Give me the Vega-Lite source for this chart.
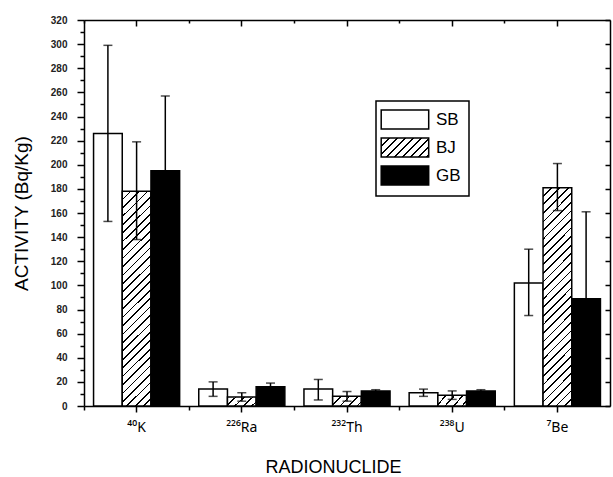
{
  "$schema": "https://vega.github.io/schema/vega-lite/v6.json",
  "width": 526,
  "height": 386,
  "autosize": {"type": "none"},
  "padding": {"left": 84, "top": 20, "right": 3, "bottom": 71},
  "background": "white",
  "config": {
    "view": {"stroke": null},
    "font": "Liberation Sans",
    "axis": {"grid": false, "domainColor": "black", "tickColor": "black", "domainWidth": 1.5, "tickWidth": 1.5, "labelColor": "black", "titleColor": "black", "labelFont": "Liberation Sans", "titleFont": "Liberation Sans"}
  },
  "data": {
    "values": [
      {"nuclide": "⁴⁰K", "group": "SB", "value": 226, "lo": 153, "hi": 299},
      {"nuclide": "⁴⁰K", "group": "BJ", "value": 178, "lo": 138, "hi": 219},
      {"nuclide": "⁴⁰K", "group": "GB", "value": 195, "lo": 133, "hi": 257},
      {"nuclide": "²²⁶Ra", "group": "SB", "value": 14, "lo": 8, "hi": 20},
      {"nuclide": "²²⁶Ra", "group": "BJ", "value": 7.5, "lo": 4, "hi": 11},
      {"nuclide": "²²⁶Ra", "group": "GB", "value": 16, "lo": 13, "hi": 19},
      {"nuclide": "²³²Th", "group": "SB", "value": 14, "lo": 5, "hi": 22},
      {"nuclide": "²³²Th", "group": "BJ", "value": 8, "lo": 4, "hi": 12},
      {"nuclide": "²³²Th", "group": "GB", "value": 12.5, "lo": 11.5, "hi": 13.5},
      {"nuclide": "²³⁸U", "group": "SB", "value": 11, "lo": 8, "hi": 14},
      {"nuclide": "²³⁸U", "group": "BJ", "value": 9, "lo": 5.5, "hi": 12.5},
      {"nuclide": "²³⁸U", "group": "GB", "value": 12.5, "lo": 11.5, "hi": 13.5},
      {"nuclide": "⁷Be", "group": "SB", "value": 102, "lo": 75, "hi": 130},
      {"nuclide": "⁷Be", "group": "BJ", "value": 181, "lo": 162, "hi": 201},
      {"nuclide": "⁷Be", "group": "GB", "value": 89, "lo": 17, "hi": 161}
    ]
  },
  "resolve": {"axis": {"x": "independent", "y": "independent"}},
  "layer": [
    {
      "mark": {"type": "bar", "strokeWidth": 1.5},
      "encoding": {
        "x": {"field": "nuclide", "type": "nominal",
          "scale": {"domain": ["⁴⁰K", "²²⁶Ra", "²³²Th", "²³⁸U", "⁷Be"], "paddingInner": 0, "paddingOuter": 0},
          "axis": {"orient": "bottom", "title": "RADIONUCLIDE", "labelAngle": 0, "ticks": true, "tickSize": 6, "labelFont": "Noto Sans", "labelFontSize": 14, "labelPadding": 8, "titleFontSize": 18, "titleFontWeight": "normal", "titleX": 249, "titleY": 66, "titleBaseline": "alphabetic", "titleAlign": "center"}},
        "xOffset": {"field": "group", "type": "nominal", "scale": {"domain": ["SB", "BJ", "GB"], "paddingOuter": 0.333, "paddingInner": 0}},
        "y": {"field": "value", "type": "quantitative", "scale": {"domain": [0, 320], "nice": false},
          "axis": {"orient": "left", "values": [0, 20, 40, 60, 80, 100, 120, 140, 160, 180, 200, 220, 240, 260, 280, 300, 320], "tickSize": 7, "labelFontSize": 10, "labelFontWeight": "bold", "labelColor": "#222", "labelPadding": 10, "labelOverlap": false, "title": "ACTIVITY (Bq/Kg)", "titleFontSize": 19, "titleFontWeight": "normal", "titlePadding": 19}},
        "stroke": {
          "field": "group", "type": "nominal",
          "scale": {"domain": ["SB", "BJ", "GB"], "range": ["#000000", "#000000", "#000000"]},
          "legend": {"title": null, "orient": "none", "legendX": 292, "legendY": 81, "symbolType": "M-1.4,-1H3.6V1H-1.4Z", "symbolSize": 361, "symbolStrokeWidth": 1.5, "symbolOpacity": 1, "labelFontSize": 17, "labelOffset": 31, "labelColor": "black", "labelFont": "Liberation Sans", "rowPadding": 3, "padding": 8, "strokeColor": "black",
            "encoding": {
              "legend": {"strokeWidth": {"value": 1.5}},
              "symbols": {
                "strokeWidth": {"value": 1.5},
                "fill": {"value": {"expr": "datum.value === 'BJ' ? {gradient: 'linear', x1: 0, y1: 0, x2: 1.2069, y2: 0.4828, stops: [{offset: 0, color: 'white'}, {offset: 0.1075, color: 'white'}, {offset: 0.1075, color: 'black'}, {offset: 0.1331, color: 'black'}, {offset: 0.1331, color: 'white'}, {offset: 0.2278, color: 'white'}, {offset: 0.2278, color: 'black'}, {offset: 0.2534, color: 'black'}, {offset: 0.2534, color: 'white'}, {offset: 0.3481, color: 'white'}, {offset: 0.3481, color: 'black'}, {offset: 0.3737, color: 'black'}, {offset: 0.3737, color: 'white'}, {offset: 0.4684, color: 'white'}, {offset: 0.4684, color: 'black'}, {offset: 0.4940, color: 'black'}, {offset: 0.4940, color: 'white'}, {offset: 0.5887, color: 'white'}, {offset: 0.5887, color: 'black'}, {offset: 0.6143, color: 'black'}, {offset: 0.6143, color: 'white'}, {offset: 0.7090, color: 'white'}, {offset: 0.7090, color: 'black'}, {offset: 0.7346, color: 'black'}, {offset: 0.7346, color: 'white'}, {offset: 0.8293, color: 'white'}, {offset: 0.8293, color: 'black'}, {offset: 0.8549, color: 'black'}, {offset: 0.8549, color: 'white'}, {offset: 0.9496, color: 'white'}, {offset: 0.9496, color: 'black'}, {offset: 0.9752, color: 'black'}, {offset: 0.9752, color: 'white'}, {offset: 1, color: 'white'}]} : (datum.value === 'GB' ? 'black' : 'white')"}}
              }
            }}
        },
        "fill": {
          "condition": [
            {"test": "datum.group === 'BJ' && datum.value > 50", "value":
              {"gradient": "linear", "x1": 0, "y1": 0, "x2": 0.1475, "y2": 1.113, "stops": [
                {"offset": 0, "color": "white"},
                {"offset": 0.0312, "color": "white"}, {"offset": 0.0312, "color": "black"}, {"offset": 0.0382, "color": "black"}, {"offset": 0.0382, "color": "white"},
                {"offset": 0.0658, "color": "white"}, {"offset": 0.0658, "color": "black"}, {"offset": 0.0728, "color": "black"}, {"offset": 0.0728, "color": "white"},
                {"offset": 0.1005, "color": "white"}, {"offset": 0.1005, "color": "black"}, {"offset": 0.1075, "color": "black"}, {"offset": 0.1075, "color": "white"},
                {"offset": 0.1352, "color": "white"}, {"offset": 0.1352, "color": "black"}, {"offset": 0.1422, "color": "black"}, {"offset": 0.1422, "color": "white"},
                {"offset": 0.1699, "color": "white"}, {"offset": 0.1699, "color": "black"}, {"offset": 0.1769, "color": "black"}, {"offset": 0.1769, "color": "white"},
                {"offset": 0.2045, "color": "white"}, {"offset": 0.2045, "color": "black"}, {"offset": 0.2115, "color": "black"}, {"offset": 0.2115, "color": "white"},
                {"offset": 0.2392, "color": "white"}, {"offset": 0.2392, "color": "black"}, {"offset": 0.2462, "color": "black"}, {"offset": 0.2462, "color": "white"},
                {"offset": 0.2739, "color": "white"}, {"offset": 0.2739, "color": "black"}, {"offset": 0.2809, "color": "black"}, {"offset": 0.2809, "color": "white"},
                {"offset": 0.3085, "color": "white"}, {"offset": 0.3085, "color": "black"}, {"offset": 0.3155, "color": "black"}, {"offset": 0.3155, "color": "white"},
                {"offset": 0.3432, "color": "white"}, {"offset": 0.3432, "color": "black"}, {"offset": 0.3502, "color": "black"}, {"offset": 0.3502, "color": "white"},
                {"offset": 0.3779, "color": "white"}, {"offset": 0.3779, "color": "black"}, {"offset": 0.3849, "color": "black"}, {"offset": 0.3849, "color": "white"},
                {"offset": 0.4125, "color": "white"}, {"offset": 0.4125, "color": "black"}, {"offset": 0.4195, "color": "black"}, {"offset": 0.4195, "color": "white"},
                {"offset": 0.4472, "color": "white"}, {"offset": 0.4472, "color": "black"}, {"offset": 0.4542, "color": "black"}, {"offset": 0.4542, "color": "white"},
                {"offset": 0.4819, "color": "white"}, {"offset": 0.4819, "color": "black"}, {"offset": 0.4889, "color": "black"}, {"offset": 0.4889, "color": "white"},
                {"offset": 0.5166, "color": "white"}, {"offset": 0.5166, "color": "black"}, {"offset": 0.5236, "color": "black"}, {"offset": 0.5236, "color": "white"},
                {"offset": 0.5512, "color": "white"}, {"offset": 0.5512, "color": "black"}, {"offset": 0.5582, "color": "black"}, {"offset": 0.5582, "color": "white"},
                {"offset": 0.5859, "color": "white"}, {"offset": 0.5859, "color": "black"}, {"offset": 0.5929, "color": "black"}, {"offset": 0.5929, "color": "white"},
                {"offset": 0.6206, "color": "white"}, {"offset": 0.6206, "color": "black"}, {"offset": 0.6276, "color": "black"}, {"offset": 0.6276, "color": "white"},
                {"offset": 0.6552, "color": "white"}, {"offset": 0.6552, "color": "black"}, {"offset": 0.6622, "color": "black"}, {"offset": 0.6622, "color": "white"},
                {"offset": 0.6899, "color": "white"}, {"offset": 0.6899, "color": "black"}, {"offset": 0.6969, "color": "black"}, {"offset": 0.6969, "color": "white"},
                {"offset": 0.7246, "color": "white"}, {"offset": 0.7246, "color": "black"}, {"offset": 0.7316, "color": "black"}, {"offset": 0.7316, "color": "white"},
                {"offset": 0.7592, "color": "white"}, {"offset": 0.7592, "color": "black"}, {"offset": 0.7662, "color": "black"}, {"offset": 0.7662, "color": "white"},
                {"offset": 0.7939, "color": "white"}, {"offset": 0.7939, "color": "black"}, {"offset": 0.8009, "color": "black"}, {"offset": 0.8009, "color": "white"},
                {"offset": 0.8286, "color": "white"}, {"offset": 0.8286, "color": "black"}, {"offset": 0.8356, "color": "black"}, {"offset": 0.8356, "color": "white"},
                {"offset": 0.8632, "color": "white"}, {"offset": 0.8632, "color": "black"}, {"offset": 0.8702, "color": "black"}, {"offset": 0.8702, "color": "white"},
                {"offset": 0.8979, "color": "white"}, {"offset": 0.8979, "color": "black"}, {"offset": 0.9049, "color": "black"}, {"offset": 0.9049, "color": "white"},
                {"offset": 0.9326, "color": "white"}, {"offset": 0.9326, "color": "black"}, {"offset": 0.9396, "color": "black"}, {"offset": 0.9396, "color": "white"},
                {"offset": 0.9673, "color": "white"}, {"offset": 0.9673, "color": "black"}, {"offset": 0.9743, "color": "black"}, {"offset": 0.9743, "color": "white"},
                {"offset": 1, "color": "white"}
              ]}},
            {"test": "datum.group === 'BJ'", "value":
              {"gradient": "linear", "x1": 0, "y1": 0, "x2": 1.2014, "y2": 0.4102, "stops": [
                {"offset": 0, "color": "white"},
                {"offset": 0.1987, "color": "white"}, {"offset": 0.1987, "color": "black"}, {"offset": 0.2429, "color": "black"}, {"offset": 0.2429, "color": "white"},
                {"offset": 0.4195, "color": "white"}, {"offset": 0.4195, "color": "black"}, {"offset": 0.4637, "color": "black"}, {"offset": 0.4637, "color": "white"},
                {"offset": 0.6402, "color": "white"}, {"offset": 0.6402, "color": "black"}, {"offset": 0.6844, "color": "black"}, {"offset": 0.6844, "color": "white"},
                {"offset": 0.8610, "color": "white"}, {"offset": 0.8610, "color": "black"}, {"offset": 0.9052, "color": "black"}, {"offset": 0.9052, "color": "white"},
                {"offset": 1, "color": "white"}
              ]}},
            {"test": "datum.group === 'GB'", "value": "#000000"}
          ],
          "value": "#ffffff"
        }
      }
    },
    {
      "mark": {"type": "rule", "strokeWidth": 1.5, "color": "black"},
      "encoding": {
        "x": {"field": "nuclide", "type": "nominal", "scale": {"domain": ["⁴⁰K", "²²⁶Ra", "²³²Th", "²³⁸U", "⁷Be"], "paddingInner": 0, "paddingOuter": 0},
          "axis": {"orient": "top", "labels": false, "title": null, "ticks": true, "tickSize": -6, "domain": true}},
        "xOffset": {"field": "group", "type": "nominal", "scale": {"domain": ["SB", "BJ", "GB"], "paddingOuter": 0.333, "paddingInner": 0}},
        "y": {"field": "lo", "type": "quantitative", "scale": {"domain": [0, 320], "nice": false},
          "axis": {"orient": "left", "values": [10, 30, 50, 70, 90, 110, 130, 150, 170, 190, 210, 230, 250, 270, 290, 310], "labels": false, "domain": false, "tickSize": 4, "title": null}},
        "y2": {"field": "hi"}
      }
    },
    {
      "mark": {"type": "tick", "orient": "horizontal", "size": 9, "thickness": 1.5, "color": "black"},
      "encoding": {
        "x": {"field": "nuclide", "type": "nominal", "scale": {"domain": ["⁴⁰K", "²²⁶Ra", "²³²Th", "²³⁸U", "⁷Be"], "paddingInner": 0, "paddingOuter": 0},
          "axis": {"orient": "bottom", "bandPosition": 0, "labels": false, "domain": false, "ticks": true, "tickSize": 4, "title": null}},
        "xOffset": {"field": "group", "type": "nominal", "scale": {"domain": ["SB", "BJ", "GB"], "paddingOuter": 0.333, "paddingInner": 0}},
        "y": {"field": "lo", "type": "quantitative", "scale": {"domain": [0, 320], "nice": false},
          "axis": {"orient": "right", "values": [0, 20, 40, 60, 80, 100, 120, 140, 160, 180, 200, 220, 240, 260, 280, 300, 320], "labels": false, "domain": true, "tickSize": -5, "title": null}}
      }
    },
    {
      "mark": {"type": "tick", "orient": "horizontal", "size": 9, "thickness": 1.5, "color": "black"},
      "encoding": {
        "x": {"field": "nuclide", "type": "nominal", "scale": {"domain": ["⁴⁰K", "²²⁶Ra", "²³²Th", "²³⁸U", "⁷Be"], "paddingInner": 0, "paddingOuter": 0},
          "axis": {"orient": "top", "bandPosition": 0, "labels": false, "domain": false, "ticks": true, "tickSize": -3, "title": null}},
        "xOffset": {"field": "group", "type": "nominal", "scale": {"domain": ["SB", "BJ", "GB"], "paddingOuter": 0.333, "paddingInner": 0}},
        "y": {"field": "hi", "type": "quantitative", "scale": {"domain": [0, 320], "nice": false}, "axis": null}
      }
    }
  ]
}
